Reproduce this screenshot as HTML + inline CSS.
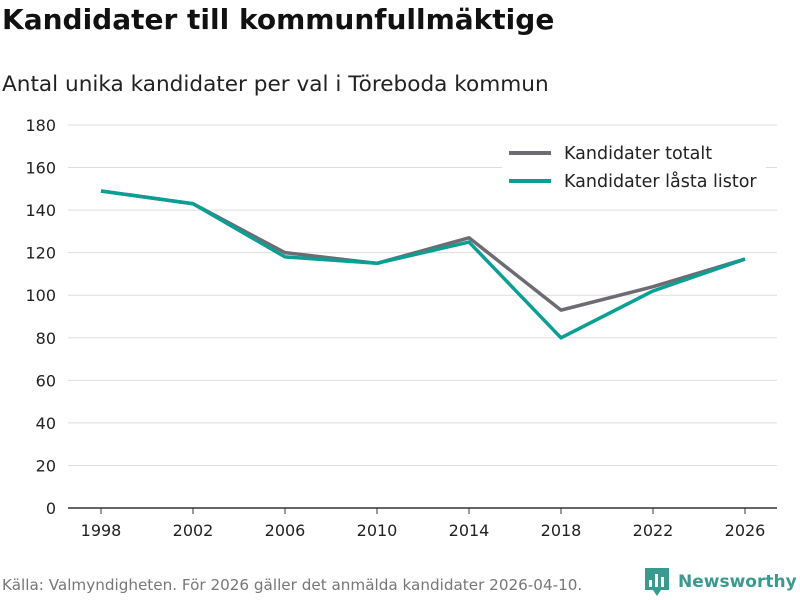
<!DOCTYPE html>
<html><head><meta charset="utf-8">
<style>
body{margin:0;width:800px;height:600px;background:#fff;font-family:"DejaVu Sans","Liberation Sans",sans-serif;overflow:hidden;position:relative;color:#111}
#title{position:absolute;left:2px;top:3px;font-size:28px;font-weight:bold;margin:0}
#subtitle{position:absolute;left:2px;top:72px;font-size:21.6px;color:#222}
#source{position:absolute;left:2px;top:576px;font-size:15.2px;color:#777}
#logo{position:absolute;left:645px;top:568px;font-size:17px;font-weight:bold;color:#3a9a90;display:flex;align-items:center;white-space:nowrap}
svg{position:absolute;left:0;top:0}
</style></head><body>
<h1 id="title">Kandidater till kommunfullmäktige</h1>
<div id="subtitle">Antal unika kandidater per val i Töreboda kommun</div>
<svg id="chart" width="800" height="600"></svg>
<div id="source">Källa: Valmyndigheten. För 2026 gäller det anmälda kandidater 2026-04-10.</div>
<div id="logo"><svg style="position:static;margin-right:9px" width="24" height="28" viewBox="0 0 24 28"><path d="M0 0h24v22h-8l-4 6-4-6H0z" fill="#3a9a90"/><rect x="4" y="12" width="3" height="7" fill="#fff"/><rect x="10" y="6" width="3" height="13" fill="#fff"/><rect x="16" y="9" width="3" height="10" fill="#fff"/></svg>Newsworthy</div>
<script>
const years=[1998,2002,2006,2010,2014,2018,2022,2026];
const totalt=[149,143,120,115,127,93,104,117];
const lasta=[149,143,118,115,125,80,102,117];
const yTicks=[0,20,40,60,80,100,120,140,160,180];
const NS="http://www.w3.org/2000/svg";
const svg=document.getElementById('chart');
const x=v=>101+(v-1998)/28*644;
const y=v=>508-v/180*383;
function el(t,a){const e=document.createElementNS(NS,t);for(const k in a)e.setAttribute(k,a[k]);svg.appendChild(e);return e;}
yTicks.forEach(t=>{
 if(t>0){const g=el('line',{x1:68,x2:777,y1:y(t),y2:y(t),stroke:'#ddd','stroke-width':1});
 
 }
 const l=el('text',{x:56,y:y(t)+6,'text-anchor':'end','font-size':16,fill:'#222'});l.textContent=t;
 
 
});
const ax=el('line',{x1:68,x2:777,y1:508,y2:508,stroke:'#333','stroke-width':1.5});


years.forEach(v=>{
 const tk=el('line',{x1:x(v),x2:x(v),y1:508,y2:514,stroke:'#333'});
 
 
 const l=el('text',{x:x(v),y:536,'text-anchor':'middle','font-size':16,fill:'#222'});l.textContent=v;
 
 
});
function line(d,c,n){const p=el('polyline',{points:d.map((v,i)=>x(years[i])+','+y(v)).join(' '),fill:'none',stroke:c,'stroke-width':3.5,'stroke-linejoin':'round'});
 
 }
line(totalt,'#6e6b73','line-kandidater-totalt');
line(lasta,'#0a9f94','line-kandidater-lasta-listor');
const bg=el('rect',{x:502,y:138,width:264,height:58,fill:'#fff'});


[['Kandidater totalt','#6e6b73',153],['Kandidater låsta listor','#0a9f94',181]].forEach(([t,c,yy])=>{
 const s=el('line',{x1:509,x2:551,y1:yy,y2:yy,stroke:c,'stroke-width':4});
 
 
 const l=el('text',{x:564,y:yy+6,'font-size':17.5,fill:'#222'});l.textContent=t;
 
 
});
</script>
</body></html>
